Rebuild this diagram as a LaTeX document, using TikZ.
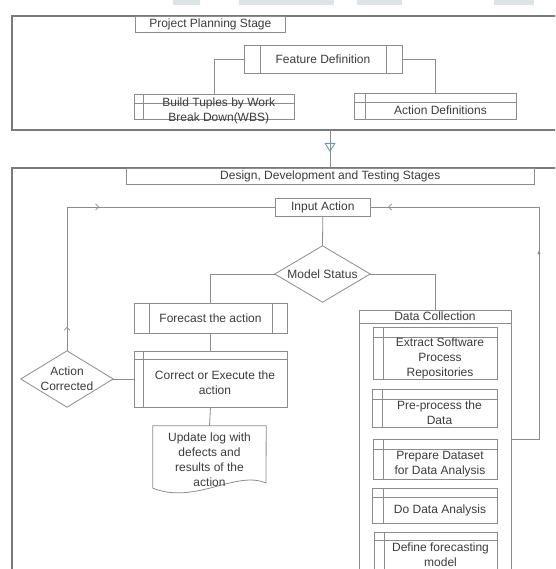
\documentclass[tikz,border=0pt]{standalone}
\usepackage{fontspec}
\setmainfont{Liberation Sans}
\usetikzlibrary{arrows.meta,decorations.markings}
\definecolor{lc}{HTML}{8C8C8C}
\definecolor{cc}{HTML}{7A7A7A}
\definecolor{tc}{HTML}{3C3C3C}
\definecolor{tealx}{HTML}{6A9AA3}
\definecolor{blob}{HTML}{DCE4E8}
% sub-process box: name, x1, y1, x2, y2, vertical line x, horizontal line y, text
\newcommand\mySP[8]{%
  \node[boxline, minimum width={#4-#2}, minimum height={#5-#3}] (#1) at ({(#2+#4)/2},{(#3+#5)/2}) {};
  \draw[thinline] (#6,#3) -- (#6,#5) (#2,#7) -- (#4,#7);
  \node[txt] (#1-t) at ({(#6+#4)/2},{(#7+#5)/2}) {#8};}
% predefined process box: name, x1, y1, x2, y2, v1, v2, text
\newcommand\myPP[8]{%
  \node[boxline, minimum width={#4-#2}, minimum height={#5-#3}] (#1) at ({(#2+#4)/2},{(#3+#5)/2}) {};
  \draw[thinline] (#6,#3) -- (#6,#5) (#7,#3) -- (#7,#5);
  \node[txt] (#1-t) at ({(#6+#7)/2},{(#3+#5)/2}) {#8};}
\begin{document}
\begin{tikzpicture}[x=1pt,y=-1pt,
  boxline/.style={draw=lc, line width=0.8pt, rectangle, inner sep=0pt, outer sep=0pt},
  thinline/.style={draw=lc, line width=0.8pt},
  container/.style={draw=cc, line width=1.1pt},
  txt/.style={text=tc, font=\fontsize{12}{15}\selectfont, align=center, inner sep=0pt},
  conn/.style={draw=lc, line width=0.8pt},
]
\useasboundingbox (0,0) rectangle (555,569);
\clip (0,0) rectangle (555,569);
\fill[white] (0,0) rectangle (555,569);
% faint blobs at the top edge
\fill[blob] (173,0) rectangle (200,5);
\fill[blob] (239,0) rectangle (334,5);
\fill[blob] (357,0) rectangle (402,5);
\fill[blob] (494,0) rectangle (534,5);

% ---------- Project planning stage ----------
\draw[container] (12,16) rectangle (580,130);
\node[boxline, txt, minimum width=149.4, minimum height=16] (pps) at (210.3,24) {Project Planning Stage};
\myPP{fd}{244}{45}{402}{73}{260}{386}{Feature Definition}
\mySP{bt}{134.5}{94}{294.5}{119}{143}{103}{Build Tuples by Work\\Break Down(WBS)}
\mySP{ad}{354}{93}{516}{119}{365}{102}{Action Definitions}
\draw[conn] (fd.west) -| (bt.north);
\draw[conn] (fd.east) -| (ad.north);

% ---------- stage arrow ----------
\coordinate (s1) at (330,130);
\coordinate (s2) at (330,168);
\draw[conn, postaction={decorate}, decoration={markings, mark=at position 22pt with {\arrow[tealx, line width=0.9pt]{Triangle[open,length=9pt,width=11pt]}}}] (s1) -- (s2);

% ---------- Design, development and testing ----------
\draw[container] (12,168) rectangle (580,590);
\node[boxline, txt, minimum width=408.5, minimum height=16] (ddt) at (330.25,176) {Design, Development and Testing Stages};

\node[boxline, txt, minimum width=95.6, minimum height=18] (ia) at (322.8,207) {Input Action};

\node[inner sep=0pt, minimum width=95, minimum height=56] (ms) at (322.5,274) {};
\draw[conn] (ms.north) -- (ms.east) -- (ms.south) -- (ms.west) -- cycle;
\node[txt] (ms-t) at (ms) {Model Status};

\myPP{fc}{134}{303}{287}{333}{149}{272}{Forecast the action}
\mySP{ce}{134}{351}{287}{407}{143}{359}{Correct or Execute the\\action}

\node[inner sep=0pt, minimum width=92, minimum height=56] (ac) at (67,379) {};
\draw[conn] (ac.north) -- (ac.east) -- (ac.south) -- (ac.west) -- cycle;
\node[txt] (ac-t) at (ac) {Action\\Corrected};

% document shape
\node[inner sep=0pt, minimum width=113, minimum height=62] (log) at (209.5,457) {};
\draw[conn] (log.south west) -- (log.north west) -- (log.north east) -- (266,483)
  .. controls (236,470) and (195,505) .. (log.south west);
\node[txt] (log-t) at (209.5,459.5) {Update log with\\defects and\\results of the\\action};

% data collection
\node[boxline, txt, minimum width=152, minimum height=13] (dc) at (435,316.5) {Data Collection};
\node[boxline, minimum width=152, minimum height=270] (dcb) at (435,458) {};
\mySP{e1}{373}{327}{497}{379}{383}{337}{Extract Software\\Process\\Repositories}
\mySP{e2}{372}{389}{497}{427}{382}{399}{Pre-process the\\Data}
\mySP{e3}{373}{439}{497}{479}{383}{449}{Prepare Dataset\\for Data Analysis}
\mySP{e4}{372}{488}{497}{523}{383}{497}{Do Data Analysis}
\mySP{e5}{374}{532}{497}{570}{384}{540}{Define forecasting\\model}

% connectors
\draw[conn] (ia.south) -- (ms.north);
\draw[conn] (ms.west) -| (fc.north);
\draw[conn] (ms.east) -| (dc.north);
\draw[conn] (fc.south) -- (ce.north);
\draw[conn] (ce.west) -- (ac.east);
\draw[conn] (ce.south) -- (log.north);
\draw[conn, postaction={decorate}, decoration={markings,
    mark=at position 24pt with {\arrow[lc]{Straight Barb[length=3pt,width=6pt]}},
    mark=at position 176pt with {\arrow[lc]{Straight Barb[length=3pt,width=6pt]}}}]
  (ac.north) |- (ia.west);
\coordinate (dcr) at (511,439);
\coordinate (rr) at (539,439);
\draw[conn, postaction={decorate}, decoration={markings,
    mark=at position 217pt with {\arrow[lc]{Latex[length=4pt,width=3.5pt]}},
    mark=at position 411pt with {\arrow[lc]{Straight Barb[length=3pt,width=6pt]}}}]
  (dcr) -- (rr) |- (ia.east);
\end{tikzpicture}
\end{document}
